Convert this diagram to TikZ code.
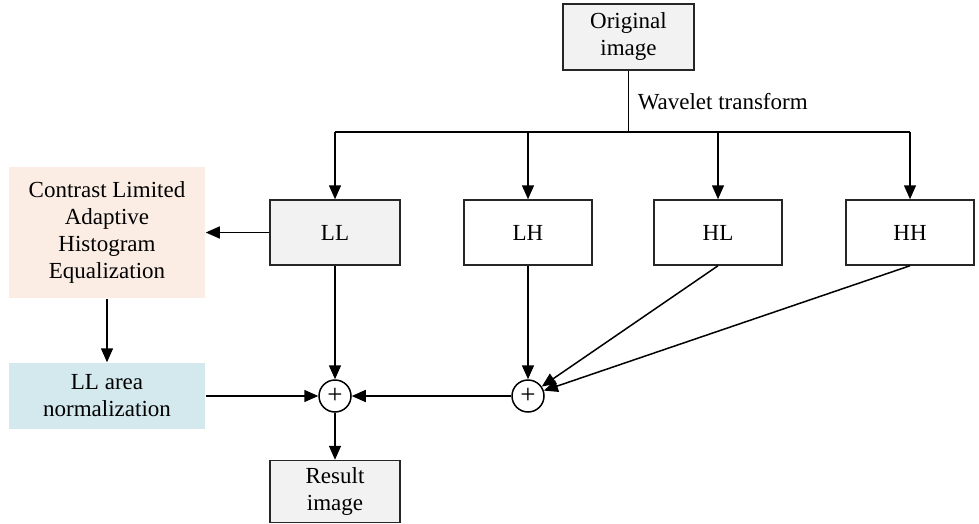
\documentclass[tikz,border=0pt]{standalone}
\usepackage{fontspec}
\setmainfont{Liberation Serif}
\usetikzlibrary{arrows.meta}
\definecolor{boxgray}{RGB}{242,242,242}
\definecolor{peach}{RGB}{251,237,228}
\definecolor{paleblue}{RGB}{211,233,238}
\begin{document}
\begin{tikzpicture}[x=1pt,y=-1pt,
  font=\rmfamily\fontsize{23}{27}\selectfont,
  line width=1.5pt,
  arr/.style={-{Triangle[length=14pt,width=12pt]}},
  graybox/.style={draw=black!85, fill=boxgray, minimum width=130pt, minimum height=65pt, inner sep=0pt, align=center},
  whitebox/.style={draw=black!85, fill=white, minimum width=128pt, minimum height=65pt, inner sep=0pt, align=center},
  colbox/.style={minimum width=196pt, inner sep=0pt, align=center},
  sumnode/.style={circle, draw, fill=white, minimum size=32pt, inner sep=0pt, font=\rmfamily\fontsize{27}{27}\selectfont}]
\useasboundingbox (0,0) rectangle (979,524);
\node[graybox, minimum width=131pt, minimum height=66pt] (orig) at (628.5,37) {Original\\image};
\node[anchor=west, inner sep=0pt] (wt) at (637,102) {Wavelet transform};
\node[graybox] (LL) at (335,232.5) {LL};
\node[whitebox] (LH) at (528,232.5) {LH};
\node[whitebox] (HL) at (718,232.5) {HL};
\node[whitebox] (HH) at (910,232.5) {HH};
\node[colbox, fill=peach, minimum height=131pt] (clahe) at (107,232.5) {Contrast Limited\\Adaptive\\Histogram\\Equalization};
\node[colbox, fill=paleblue, minimum height=66pt] (norm) at (107,396) {LL area\\normalization};
\node[sumnode] (s1) at (335,396) {+};
\node[sumnode] (s2) at (528,396) {+};
\node[graybox, minimum height=62pt] (res) at (335,491.5) {Result\\image};
\coordinate (split) at (628.5,132);
\coordinate (sLL) at (335,132);
\coordinate (sLH) at (528,132);
\coordinate (sHL) at (718,132);
\coordinate (sHH) at (910,132);
\draw (orig) -- (split);
\draw (sLL) -- (sHH);
\draw[arr] (sLL) -- (LL);
\draw[arr] (sLH) -- (LH);
\draw[arr] (sHL) -- (HL);
\draw[arr] (sHH) -- (HH);
\draw[arr] (LL) -- (clahe);
\draw[arr] (clahe) -- (norm);
\draw[arr] (norm) -- (s1);
\draw[arr] (LL) -- (s1);
\draw[arr] (s1) -- (res);
\draw[arr] (LH) -- (s2);
\draw[arr] (HL.south) -- (s2);
\draw[arr] (HH.south) -- (s2);
\draw[arr] (s2) -- (s1);
\end{tikzpicture}
\end{document}
